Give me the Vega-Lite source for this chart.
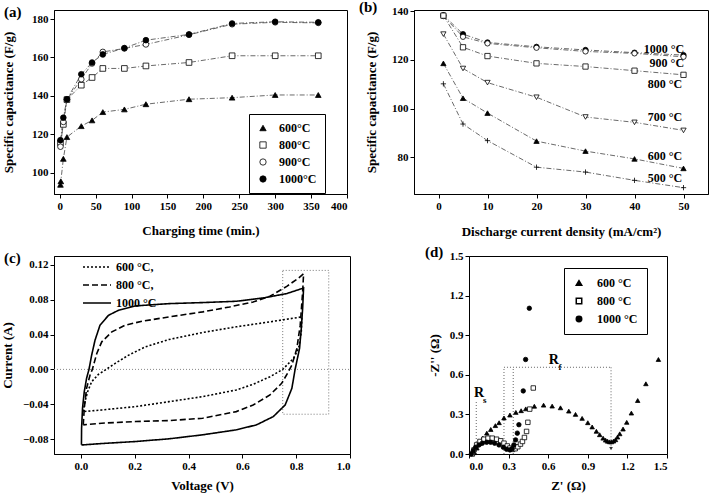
{
  "$schema": "https://vega.github.io/schema/vega-lite/v6.json",
  "padding": {"left": 0, "top": -1, "right": 0, "bottom": 0},
  "background": "white",
  "config": {
    "font": "Liberation Serif",
    "view": {"stroke": "black", "strokeWidth": 1},
    "axis": {"labelFont": "Liberation Serif", "labelFontWeight": "bold", "labelFontSize": 11, "labelColor": "black",
      "titleFont": "Liberation Serif", "titleFontWeight": "bold", "titleFontSize": 13, "titleColor": "black",
      "domainColor": "black", "tickColor": "black", "tickSize": 4, "grid": false, "labelPadding": 2, "labelOverlap": false},
    "title": {"font": "Liberation Serif", "fontWeight": "bold", "fontSize": 15, "color": "black", "anchor": "start", "frame": "group", "offset": -14, "dy": -4},
    "legend": {"labelFont": "Liberation Serif", "labelFontWeight": "bold", "labelFontSize": 12, "labelColor": "black"}
  },
  "datasets": {
    "a": [
      {"t": 1, "c": 93.8, "s": "600°C"}, {"t": 1.5, "c": 95.6, "s": "600°C"}, {"t": 5, "c": 107.3, "s": "600°C"}, {"t": 10, "c": 118.6, "s": "600°C"}, {"t": 30, "c": 124.3, "s": "600°C"}, {"t": 45, "c": 127.3, "s": "600°C"}, {"t": 60, "c": 131.6, "s": "600°C"}, {"t": 90, "c": 133, "s": "600°C"}, {"t": 120, "c": 135.7, "s": "600°C"}, {"t": 180, "c": 138.3, "s": "600°C"}, {"t": 240, "c": 139.1, "s": "600°C"}, {"t": 300, "c": 140.5, "s": "600°C"}, {"t": 360, "c": 140.5, "s": "600°C"},
      {"t": 1, "c": 115.5, "s": "800°C"}, {"t": 5, "c": 125.2, "s": "800°C"}, {"t": 10, "c": 138.1, "s": "800°C"}, {"t": 30, "c": 145.6, "s": "800°C"}, {"t": 45, "c": 149.6, "s": "800°C"}, {"t": 60, "c": 154.3, "s": "800°C"}, {"t": 90, "c": 154.3, "s": "800°C"}, {"t": 120, "c": 155.6, "s": "800°C"}, {"t": 180, "c": 157.4, "s": "800°C"}, {"t": 240, "c": 160.9, "s": "800°C"}, {"t": 300, "c": 160.9, "s": "800°C"}, {"t": 360, "c": 160.9, "s": "800°C"},
      {"t": 1, "c": 113.6, "s": "900°C"}, {"t": 5, "c": 126.5, "s": "900°C"}, {"t": 10, "c": 138.1, "s": "900°C"}, {"t": 30, "c": 148.7, "s": "900°C"}, {"t": 45, "c": 156.9, "s": "900°C"}, {"t": 60, "c": 162.9, "s": "900°C"}, {"t": 90, "c": 164.7, "s": "900°C"}, {"t": 120, "c": 166.8, "s": "900°C"}, {"t": 180, "c": 171.8, "s": "900°C"}, {"t": 240, "c": 177.3, "s": "900°C"}, {"t": 300, "c": 178.3, "s": "900°C"}, {"t": 360, "c": 178, "s": "900°C"},
      {"t": 1, "c": 117, "s": "1000°C"}, {"t": 5, "c": 128.7, "s": "1000°C"}, {"t": 10, "c": 138.3, "s": "1000°C"}, {"t": 30, "c": 151.3, "s": "1000°C"}, {"t": 45, "c": 157.4, "s": "1000°C"}, {"t": 60, "c": 161.6, "s": "1000°C"}, {"t": 90, "c": 164.9, "s": "1000°C"}, {"t": 120, "c": 169, "s": "1000°C"}, {"t": 180, "c": 172, "s": "1000°C"}, {"t": 240, "c": 177.7, "s": "1000°C"}, {"t": 300, "c": 178.6, "s": "1000°C"}, {"t": 360, "c": 178.3, "s": "1000°C"}
    ],
    "b": [
      {"j": 1, "c": 138.4, "s": "1000"}, {"j": 5, "c": 130.6, "s": "1000"}, {"j": 10, "c": 127.2, "s": "1000"}, {"j": 20, "c": 125.4, "s": "1000"}, {"j": 30, "c": 124.1, "s": "1000"}, {"j": 40, "c": 123, "s": "1000"}, {"j": 50, "c": 122, "s": "1000"},
      {"j": 1, "c": 138, "s": "900"}, {"j": 5, "c": 129.5, "s": "900"}, {"j": 10, "c": 126.8, "s": "900"}, {"j": 20, "c": 125, "s": "900"}, {"j": 30, "c": 123.5, "s": "900"}, {"j": 40, "c": 122.7, "s": "900"}, {"j": 50, "c": 121.3, "s": "900"},
      {"j": 1, "c": 138.2, "s": "800"}, {"j": 5, "c": 125.2, "s": "800"}, {"j": 10, "c": 121.6, "s": "800"}, {"j": 20, "c": 118.6, "s": "800"}, {"j": 30, "c": 117.3, "s": "800"}, {"j": 40, "c": 115.6, "s": "800"}, {"j": 50, "c": 113.9, "s": "800"},
      {"j": 1, "c": 130.6, "s": "700"}, {"j": 5, "c": 116.5, "s": "700"}, {"j": 10, "c": 110.7, "s": "700"}, {"j": 20, "c": 104.7, "s": "700"}, {"j": 30, "c": 96.6, "s": "700"}, {"j": 40, "c": 94.4, "s": "700"}, {"j": 50, "c": 91.1, "s": "700"},
      {"j": 1, "c": 118.6, "s": "600"}, {"j": 5, "c": 104.3, "s": "600"}, {"j": 10, "c": 98.2, "s": "600"}, {"j": 20, "c": 86.7, "s": "600"}, {"j": 30, "c": 82.6, "s": "600"}, {"j": 40, "c": 79.4, "s": "600"}, {"j": 50, "c": 75.5, "s": "600"},
      {"j": 1, "c": 110.2, "s": "500"}, {"j": 5, "c": 93.7, "s": "500"}, {"j": 10, "c": 86.9, "s": "500"}, {"j": 20, "c": 76, "s": "500"}, {"j": 30, "c": 74, "s": "500"}, {"j": 40, "c": 70.6, "s": "500"}, {"j": 50, "c": 67.6, "s": "500"}
    ],
    "blab": [
      {"j": 46, "c": 124.7, "t": "1000 °C"}, {"j": 46.6, "c": 118.6, "t": "900 °C"}, {"j": 46.2, "c": 110.2, "t": "800 °C"},
      {"j": 46.2, "c": 96.5, "t": "700 °C"}, {"j": 46.2, "c": 80.5, "t": "600 °C"}, {"j": 46.2, "c": 71.7, "t": "500 °C"}
    ],
    "c": [
      {"i": 0, "v": 0.002, "a": -0.0865, "s": "1000 °C"}, {"i": 1, "v": 0.0025, "a": -0.0674, "s": "1000 °C"}, {"i": 2, "v": 0.006, "a": -0.0446, "s": "1000 °C"}, {"i": 3, "v": 0.0125, "a": -0.0255, "s": "1000 °C"}, {"i": 4, "v": 0.021, "a": -0.0103, "s": "1000 °C"}, {"i": 5, "v": 0.03, "a": 0.0, "s": "1000 °C"}, {"i": 6, "v": 0.04, "a": 0.0164, "s": "1000 °C"}, {"i": 7, "v": 0.0525, "a": 0.0335, "s": "1000 °C"}, {"i": 8, "v": 0.071, "a": 0.0507, "s": "1000 °C"}, {"i": 9, "v": 0.1025, "a": 0.062, "s": "1000 °C"}, {"i": 10, "v": 0.14, "a": 0.0678, "s": "1000 °C"}, {"i": 11, "v": 0.2025, "a": 0.0728, "s": "1000 °C"}, {"i": 12, "v": 0.3275, "a": 0.0754, "s": "1000 °C"}, {"i": 13, "v": 0.4525, "a": 0.0766, "s": "1000 °C"}, {"i": 14, "v": 0.5775, "a": 0.0781, "s": "1000 °C"}, {"i": 15, "v": 0.6775, "a": 0.0819, "s": "1000 °C"}, {"i": 16, "v": 0.765, "a": 0.0869, "s": "1000 °C"}, {"i": 17, "v": 0.8275, "a": 0.0933, "s": "1000 °C"}, {"i": 18, "v": 0.824, "a": 0.0697, "s": "1000 °C"}, {"i": 19, "v": 0.819, "a": 0.0469, "s": "1000 °C"}, {"i": 20, "v": 0.8125, "a": 0.024, "s": "1000 °C"}, {"i": 21, "v": 0.796, "a": 0.0, "s": "1000 °C"}, {"i": 22, "v": 0.784, "a": -0.0217, "s": "1000 °C"}, {"i": 23, "v": 0.759, "a": -0.0408, "s": "1000 °C"}, {"i": 24, "v": 0.715, "a": -0.0541, "s": "1000 °C"}, {"i": 25, "v": 0.6525, "a": -0.0636, "s": "1000 °C"}, {"i": 26, "v": 0.5775, "a": -0.0693, "s": "1000 °C"}, {"i": 27, "v": 0.4525, "a": -0.075, "s": "1000 °C"}, {"i": 28, "v": 0.3275, "a": -0.0796, "s": "1000 °C"}, {"i": 29, "v": 0.2025, "a": -0.0827, "s": "1000 °C"}, {"i": 30, "v": 0.0775, "a": -0.085, "s": "1000 °C"}, {"i": 31, "v": 0.01, "a": -0.0865, "s": "1000 °C"}, {"i": 32, "v": 0.002, "a": -0.0865, "s": "1000 °C"},
      {"i": 0, "v": 0.00875, "a": -0.0636, "s": "800 °C,"}, {"i": 1, "v": 0.0125, "a": -0.0446, "s": "800 °C,"}, {"i": 2, "v": 0.021, "a": -0.0217, "s": "800 °C,"}, {"i": 3, "v": 0.034, "a": -0.0065, "s": "800 °C,"}, {"i": 4, "v": 0.0425, "a": 0.0, "s": "800 °C,"}, {"i": 5, "v": 0.059, "a": 0.0183, "s": "800 °C,"}, {"i": 6, "v": 0.0775, "a": 0.0316, "s": "800 °C,"}, {"i": 7, "v": 0.115, "a": 0.043, "s": "800 °C,"}, {"i": 8, "v": 0.165, "a": 0.0507, "s": "800 °C,"}, {"i": 9, "v": 0.2275, "a": 0.0552, "s": "800 °C,"}, {"i": 10, "v": 0.3275, "a": 0.0602, "s": "800 °C,"}, {"i": 11, "v": 0.4525, "a": 0.0659, "s": "800 °C,"}, {"i": 12, "v": 0.5525, "a": 0.0716, "s": "800 °C,"}, {"i": 13, "v": 0.64, "a": 0.0773, "s": "800 °C,"}, {"i": 14, "v": 0.7025, "a": 0.0838, "s": "800 °C,"}, {"i": 15, "v": 0.765, "a": 0.0952, "s": "800 °C,"}, {"i": 16, "v": 0.809, "a": 0.1048, "s": "800 °C,"}, {"i": 17, "v": 0.8275, "a": 0.1097, "s": "800 °C,"}, {"i": 18, "v": 0.824, "a": 0.0888, "s": "800 °C,"}, {"i": 19, "v": 0.815, "a": 0.0507, "s": "800 °C,"}, {"i": 20, "v": 0.8025, "a": 0.024, "s": "800 °C,"}, {"i": 21, "v": 0.784, "a": 0.005, "s": "800 °C,"}, {"i": 22, "v": 0.771, "a": -0.0027, "s": "800 °C,"}, {"i": 23, "v": 0.746, "a": -0.016, "s": "800 °C,"}, {"i": 24, "v": 0.7025, "a": -0.0293, "s": "800 °C,"}, {"i": 25, "v": 0.64, "a": -0.0408, "s": "800 °C,"}, {"i": 26, "v": 0.5775, "a": -0.0484, "s": "800 °C,"}, {"i": 27, "v": 0.4525, "a": -0.056, "s": "800 °C,"}, {"i": 28, "v": 0.3275, "a": -0.0587, "s": "800 °C,"}, {"i": 29, "v": 0.2025, "a": -0.0598, "s": "800 °C,"}, {"i": 30, "v": 0.0775, "a": -0.0617, "s": "800 °C,"}, {"i": 31, "v": 0.00875, "a": -0.0636, "s": "800 °C,"},
      {"i": 0, "v": 0.00875, "a": -0.0484, "s": "600 °C,"}, {"i": 1, "v": 0.015, "a": -0.037, "s": "600 °C,"}, {"i": 2, "v": 0.025, "a": -0.0255, "s": "600 °C,"}, {"i": 3, "v": 0.04, "a": -0.0141, "s": "600 °C,"}, {"i": 4, "v": 0.065, "a": -0.0057, "s": "600 °C,"}, {"i": 5, "v": 0.09, "a": -0.0008, "s": "600 °C,"}, {"i": 6, "v": 0.1275, "a": 0.0069, "s": "600 °C,"}, {"i": 7, "v": 0.1775, "a": 0.0164, "s": "600 °C,"}, {"i": 8, "v": 0.24, "a": 0.0259, "s": "600 °C,"}, {"i": 9, "v": 0.3275, "a": 0.0343, "s": "600 °C,"}, {"i": 10, "v": 0.4525, "a": 0.0423, "s": "600 °C,"}, {"i": 11, "v": 0.5775, "a": 0.0488, "s": "600 °C,"}, {"i": 12, "v": 0.7025, "a": 0.0545, "s": "600 °C,"}, {"i": 13, "v": 0.821, "a": 0.0602, "s": "600 °C,"}, {"i": 14, "v": 0.819, "a": 0.043, "s": "600 °C,"}, {"i": 15, "v": 0.809, "a": 0.024, "s": "600 °C,"}, {"i": 16, "v": 0.79, "a": 0.0126, "s": "600 °C,"}, {"i": 17, "v": 0.75, "a": 0.0, "s": "600 °C,"}, {"i": 18, "v": 0.7025, "a": -0.0084, "s": "600 °C,"}, {"i": 19, "v": 0.64, "a": -0.0171, "s": "600 °C,"}, {"i": 20, "v": 0.5775, "a": -0.0236, "s": "600 °C,"}, {"i": 21, "v": 0.4525, "a": -0.0312, "s": "600 °C,"}, {"i": 22, "v": 0.3275, "a": -0.037, "s": "600 °C,"}, {"i": 23, "v": 0.2025, "a": -0.0427, "s": "600 °C,"}, {"i": 24, "v": 0.0775, "a": -0.0465, "s": "600 °C,"}, {"i": 25, "v": 0.00875, "a": -0.0484, "s": "600 °C,"}
    ],
    "czero": [{"v": -0.1, "v2": 1.0, "a": 0}],
    "cbox": [{"v": 0.75, "v2": 0.921, "a": 0.1135, "a2": -0.0514}],
    "d": [
      {"x": 0.04, "y": 0.01, "s": "600 °C"}, {"x": 0.06, "y": 0.045, "s": "600 °C"}, {"x": 0.08, "y": 0.08, "s": "600 °C"}, {"x": 0.105, "y": 0.12, "s": "600 °C"}, {"x": 0.135, "y": 0.158, "s": "600 °C"}, {"x": 0.165, "y": 0.186, "s": "600 °C"}, {"x": 0.2, "y": 0.215, "s": "600 °C"}, {"x": 0.228, "y": 0.237, "s": "600 °C"}, {"x": 0.265, "y": 0.273, "s": "600 °C"}, {"x": 0.31, "y": 0.295, "s": "600 °C"}, {"x": 0.355, "y": 0.315, "s": "600 °C"}, {"x": 0.395, "y": 0.328, "s": "600 °C"}, {"x": 0.43, "y": 0.342, "s": "600 °C"}, {"x": 0.495, "y": 0.362, "s": "600 °C"}, {"x": 0.565, "y": 0.37, "s": "600 °C"}, {"x": 0.63, "y": 0.363, "s": "600 °C"}, {"x": 0.693, "y": 0.35, "s": "600 °C"}, {"x": 0.756, "y": 0.325, "s": "600 °C"}, {"x": 0.807, "y": 0.3, "s": "600 °C"}, {"x": 0.857, "y": 0.27, "s": "600 °C"}, {"x": 0.9, "y": 0.237, "s": "600 °C"}, {"x": 0.933, "y": 0.205, "s": "600 °C"}, {"x": 0.965, "y": 0.172, "s": "600 °C"}, {"x": 0.99, "y": 0.146, "s": "600 °C"}, {"x": 1.016, "y": 0.12, "s": "600 °C"}, {"x": 1.035, "y": 0.105, "s": "600 °C"}, {"x": 1.05, "y": 0.097, "s": "600 °C"}, {"x": 1.066, "y": 0.092, "s": "600 °C"}, {"x": 1.08, "y": 0.092, "s": "600 °C"}, {"x": 1.095, "y": 0.098, "s": "600 °C"}, {"x": 1.11, "y": 0.108, "s": "600 °C"}, {"x": 1.125, "y": 0.128, "s": "600 °C"}, {"x": 1.142, "y": 0.153, "s": "600 °C"}, {"x": 1.167, "y": 0.189, "s": "600 °C"}, {"x": 1.195, "y": 0.24, "s": "600 °C"}, {"x": 1.23, "y": 0.31, "s": "600 °C"}, {"x": 1.278, "y": 0.405, "s": "600 °C"}, {"x": 1.34, "y": 0.532, "s": "600 °C"}, {"x": 1.435, "y": 0.716, "s": "600 °C"},
      {"x": 0.025, "y": 0.0, "s": "800 °C"}, {"x": 0.038, "y": 0.031, "s": "800 °C"}, {"x": 0.058, "y": 0.069, "s": "800 °C"}, {"x": 0.083, "y": 0.095, "s": "800 °C"}, {"x": 0.113, "y": 0.112, "s": "800 °C"}, {"x": 0.144, "y": 0.12, "s": "800 °C"}, {"x": 0.176, "y": 0.12, "s": "800 °C"}, {"x": 0.209, "y": 0.112, "s": "800 °C"}, {"x": 0.24, "y": 0.1, "s": "800 °C"}, {"x": 0.265, "y": 0.082, "s": "800 °C"}, {"x": 0.29, "y": 0.061, "s": "800 °C"}, {"x": 0.31, "y": 0.045, "s": "800 °C"}, {"x": 0.33, "y": 0.035, "s": "800 °C"}, {"x": 0.35, "y": 0.04, "s": "800 °C"}, {"x": 0.37, "y": 0.055, "s": "800 °C"}, {"x": 0.39, "y": 0.075, "s": "800 °C"}, {"x": 0.405, "y": 0.095, "s": "800 °C"}, {"x": 0.42, "y": 0.125, "s": "800 °C"}, {"x": 0.436, "y": 0.171, "s": "800 °C"}, {"x": 0.446, "y": 0.24, "s": "800 °C"}, {"x": 0.46, "y": 0.34, "s": "800 °C"}, {"x": 0.487, "y": 0.5, "s": "800 °C"},
      {"x": 0.018, "y": 0.0, "s": "1000 °C"}, {"x": 0.033, "y": 0.026, "s": "1000 °C"}, {"x": 0.05, "y": 0.051, "s": "1000 °C"}, {"x": 0.076, "y": 0.069, "s": "1000 °C"}, {"x": 0.101, "y": 0.082, "s": "1000 °C"}, {"x": 0.134, "y": 0.089, "s": "1000 °C"}, {"x": 0.164, "y": 0.089, "s": "1000 °C"}, {"x": 0.194, "y": 0.082, "s": "1000 °C"}, {"x": 0.227, "y": 0.069, "s": "1000 °C"}, {"x": 0.26, "y": 0.051, "s": "1000 °C"}, {"x": 0.285, "y": 0.036, "s": "1000 °C"}, {"x": 0.31, "y": 0.031, "s": "1000 °C"}, {"x": 0.328, "y": 0.041, "s": "1000 °C"}, {"x": 0.34, "y": 0.069, "s": "1000 °C"}, {"x": 0.353, "y": 0.107, "s": "1000 °C"}, {"x": 0.366, "y": 0.158, "s": "1000 °C"}, {"x": 0.378, "y": 0.222, "s": "1000 °C"}, {"x": 0.411, "y": 0.478, "s": "1000 °C"}, {"x": 0.429, "y": 0.716, "s": "1000 °C"}, {"x": 0.457, "y": 1.104, "s": "1000 °C"}
    ],
    "dlines": [
      {"x": 0.055, "y": 0, "x2": 0.055, "y2": 0.4}, {"x": 0.265, "y": 0, "x2": 0.265, "y2": 0.657}, {"x": 0.335, "y": 0, "x2": 0.335, "y2": 0.657},
      {"x": 0.265, "y": 0.657, "x2": 1.076, "y2": 0.657}, {"x": 1.076, "y": 0.657, "x2": 1.076, "y2": 0.05}
    ],
    "dbig": [{"x": 0.076, "y": 0.465, "t": "R"}, {"x": 0.643, "y": 0.71, "t": "R"}],
    "dsmall": [{"x": 0.12, "y": 0.41, "t": "s"}, {"x": 0.69, "y": 0.66, "t": "f"}],
    "darrow": [{"x": 1.076, "y": 0.04}]
  },
  "spacing": 5,
  "resolve": {"scale": {"shape": "independent", "fill": "independent", "strokeDash": "independent"}, "legend": {"shape": "independent", "fill": "independent", "strokeDash": "independent"}},
  "vconcat": [
    {
      "bounds": "flush",
      "spacing": 67,
      "resolve": {"scale": {"shape": "independent", "fill": "independent"}, "legend": {"shape": "independent", "fill": "independent"}},
      "hconcat": [
        {
          "width": 293, "height": 184,
          "title": {"text": "(a)", "dx": -50},
          "data": {"name": "a"},
          "encoding": {
            "x": {"field": "t", "type": "quantitative", "scale": {"domain": [-8, 400], "nice": false, "zero": false},
              "axis": {"values": [0, 50, 100, 150, 200, 250, 300, 350, 400], "labelOverlap": false, "title": "Charging time (min.)", "titlePadding": 13}},
            "y": {"field": "c", "type": "quantitative", "scale": {"domain": [89, 184.7], "nice": false, "zero": false},
              "axis": {"values": [100, 120, 140, 160, 180], "labelOverlap": false, "title": "Specific capacitance (F/g)", "titlePadding": 16}}
          },
          "layer": [
            {"mark": {"type": "line", "color": "#444", "strokeWidth": 0.8, "strokeDash": [5, 2, 1, 2]}, "encoding": {"detail": {"field": "s"}}},
            {"mark": {"type": "point", "filled": true, "stroke": "black", "strokeWidth": 0.8, "size": 32, "opacity": 1},
              "encoding": {
                "shape": {"field": "s", "type": "nominal", "scale": {"domain": ["600°C", "800°C", "900°C", "1000°C"], "range": ["triangle-up", "square", "circle", "circle"]},
                  "legend": {"orient": "none", "legendX": 195, "legendY": 104, "title": null, "strokeColor": "black", "padding": 8, "rowPadding": 5, "symbolSize": 40, "symbolStrokeWidth": 0.8, "labelOffset": 10}},
                "fill": {"field": "s", "type": "nominal", "scale": {"domain": ["600°C", "800°C", "900°C", "1000°C"], "range": ["black", "white", "white", "black"]}}
              }}
          ]
        },
        {
          "width": 294, "height": 184,
          "title": {"text": "(b)", "dx": -55},
          "layer": [
            {
              "data": {"name": "b"},
              "encoding": {
                "x": {"field": "j", "type": "quantitative", "scale": {"domain": [-5, 55], "nice": false, "zero": false},
                  "axis": {"values": [0, 10, 20, 30, 40, 50], "labelOverlap": false, "title": "Discharge current density (mA/cm²)", "titlePadding": 14}},
                "y": {"field": "c", "type": "quantitative", "scale": {"domain": [65, 140.5], "nice": false, "zero": false},
                  "axis": {"values": [80, 100, 120, 140], "labelOverlap": false, "title": "Specific capacitance (F/g)", "titlePadding": 13}}
              },
              "layer": [
                {"mark": {"type": "line", "color": "#444", "strokeWidth": 0.8, "strokeDash": [5, 2, 1, 2]}, "encoding": {"detail": {"field": "s"}}},
                {"mark": {"type": "point", "filled": true, "stroke": "black", "strokeWidth": 0.8, "size": 28, "opacity": 1},
                  "encoding": {
                    "shape": {"field": "s", "type": "nominal", "legend": null, "scale": {"domain": ["1000", "900", "800", "700", "600", "500"], "range": ["circle", "circle", "square", "triangle-down", "triangle-up", "M-1,0H1M0,-1V1"]}},
                    "fill": {"field": "s", "type": "nominal", "legend": null, "scale": {"domain": ["1000", "900", "800", "700", "600", "500"], "range": ["black", "white", "white", "white", "black", "white"]}}
                  }}
              ]
            },
            {
              "data": {"name": "blab"},
              "mark": {"type": "text", "font": "Liberation Serif", "fontWeight": "bold", "fontSize": 12, "color": "black"},
              "encoding": {"x": {"field": "j", "type": "quantitative"}, "y": {"field": "c", "type": "quantitative"}, "text": {"field": "t"}}
            }
          ]
        }
      ]
    },
    {
      "bounds": "flush",
      "spacing": 119,
      "resolve": {"scale": {"shape": "independent", "fill": "independent", "strokeDash": "independent"}, "legend": {"shape": "independent", "fill": "independent", "strokeDash": "independent"}},
      "hconcat": [
        {
          "width": 296, "height": 198,
          "title": {"text": "(c)", "dx": -50},
          "encoding": {
            "x": {"field": "v", "type": "quantitative", "scale": {"domain": [-0.1, 1.0], "nice": false, "zero": false},
              "axis": {"values": [0, 0.2, 0.4, 0.6, 0.8, 1.0], "format": ".1f", "labelOverlap": false, "title": "Voltage (V)", "titlePadding": 8}},
            "y": {"field": "a", "type": "quantitative", "scale": {"domain": [-0.097, 0.13], "nice": false, "zero": false},
              "axis": {"values": [-0.08, -0.04, 0, 0.04, 0.08, 0.12], "format": ".2f", "labelOverlap": false, "title": "Current (A)", "titlePadding": 8}}
          },
          "layer": [
            {
              "data": {"name": "czero"},
              "mark": {"type": "rule", "color": "#888", "strokeDash": [1, 2], "strokeWidth": 1},
              "encoding": {"x2": {"field": "v2"}}
            },
            {
              "data": {"name": "cbox"},
              "mark": {"type": "rect", "fillOpacity": 0, "stroke": "#777", "strokeDash": [1, 2], "strokeWidth": 1},
              "encoding": {"x2": {"field": "v2"}, "y2": {"field": "a2"}}
            },
            {
              "data": {"name": "c"},
              "mark": {"type": "line", "color": "black", "strokeWidth": 1.6},
              "encoding": {
                "order": {"field": "i", "type": "quantitative"},
                "strokeDash": {"field": "s", "type": "nominal",
                  "scale": {"domain": ["600 °C,", "800 °C,", "1000 °C"], "range": [[2, 2], [6, 3], [1, 0]]},
                  "legend": {"orient": "none", "legendX": 35, "legendY": 3, "title": null, "symbolType": "M-2,0H2", "symbolSize": 196, "symbolStrokeWidth": 1.6, "symbolStrokeColor": "black", "rowPadding": 4, "labelOffset": 11}}
              }
            }
          ]
        },
        {
          "width": 198, "height": 198,
          "title": {"text": "(d)", "dx": -44},
          "encoding": {
            "x": {"field": "x", "type": "quantitative", "scale": {"domain": [0, 1.5], "nice": false},
              "axis": {"values": [0, 0.3, 0.6, 0.9, 1.2, 1.5], "format": ".1f", "labelOverlap": false, "title": "Z' (Ω)", "titlePadding": 8}},
            "y": {"field": "y", "type": "quantitative", "scale": {"domain": [0, 1.5], "nice": false},
              "axis": {"values": [0, 0.3, 0.6, 0.9, 1.2, 1.5], "format": ".1f", "labelOverlap": false, "title": "-Z'' (Ω)", "titlePadding": 8}}
          },
          "layer": [
            {
              "data": {"name": "dlines"},
              "mark": {"type": "rule", "color": "#666", "strokeDash": [1, 2], "strokeWidth": 1},
              "encoding": {"x2": {"field": "x2"}, "y2": {"field": "y2"}}
            },
            {
              "data": {"name": "darrow"},
              "mark": {"type": "point", "shape": "triangle-down", "filled": true, "color": "#333", "size": 14, "opacity": 1}
            },
            {
              "data": {"name": "d"},
              "mark": {"type": "point", "filled": true, "stroke": "black", "strokeWidth": 0.8, "size": 20, "opacity": 1},
              "encoding": {
                "shape": {"field": "s", "type": "nominal", "scale": {"domain": ["600 °C", "800 °C", "1000 °C"], "range": ["triangle-up", "square", "circle"]},
                  "legend": {"orient": "none", "legendX": 95, "legendY": 12, "title": null, "strokeColor": "black", "padding": 9, "rowPadding": 6, "symbolSize": 30, "labelOffset": 12}},
                "fill": {"field": "s", "type": "nominal", "scale": {"domain": ["600 °C", "800 °C", "1000 °C"], "range": ["black", "white", "black"]}}
              }
            },
            {
              "data": {"name": "dbig"},
              "mark": {"type": "text", "font": "Liberation Serif", "fontWeight": "bold", "fontSize": 14, "color": "black"},
              "encoding": {"text": {"field": "t"}}
            },
            {
              "data": {"name": "dsmall"},
              "mark": {"type": "text", "font": "Liberation Serif", "fontWeight": "bold", "fontSize": 9, "color": "black"},
              "encoding": {"text": {"field": "t"}}
            }
          ]
        }
      ]
    }
  ]
}
